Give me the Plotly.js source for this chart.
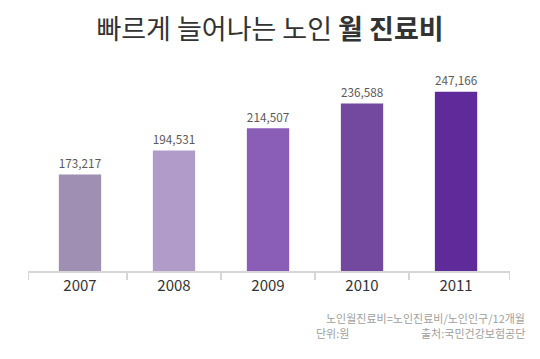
<!DOCTYPE html>
<html>
<head>
<meta charset="utf-8">
<script src="https://cdn.plot.ly/plotly-3.0.1.min.js"></script>
<style>html,body{margin:0;padding:0;background:#fff;}#chart{width:540px;height:359px;}</style>
</head>
<body>
<div id="chart"></div>
<script>
const years = ['2007', '2008', '2009', '2010', '2011'];
const monthlyCost = [173217, 194531, 214507, 236588, 247166];
const barColors = ['#9f8fb3', '#b09bc9', '#8a5db6', '#7349a0', '#5f2b9b'];
const boundaryTicks = [-0.55, 0.5, 1.5, 2.5, 3.5, 4.57];

const FONT = '"Noto Sans CJK KR", "Noto Sans", sans-serif';

const data = [
  {
    type: 'bar',
    x: years,
    y: monthlyCost,
    width: 0.45,
    marker: {color: barColors},
    text: monthlyCost.map(v => v.toLocaleString('en-US')),
    textposition: 'outside',
    textfont: {family: FONT, size: 13, color: '#5a5a5a'},
    cliponaxis: false,
    hoverinfo: 'x+y'
  },
  {
    type: 'scatter',
    x: [0],
    y: [0],
    xaxis: 'x2',
    mode: 'markers',
    marker: {opacity: 0},
    hoverinfo: 'skip',
    showlegend: false
  }
];

const layout = {
  width: 540,
  height: 359,
  margin: {l: 28, r: 30, t: 60, b: 88},
  paper_bgcolor: '#ffffff',
  plot_bgcolor: '#ffffff',
  showlegend: false,
  title: {
    text: '빠르게 늘어나는 노인 <b>월 진료비</b>',
    font: {family: FONT, size: 27, color: '#333333'},
    x: 0.5,
    xanchor: 'center',
    y: 1 - 30 / 359,
    yanchor: 'middle'
  },
  xaxis: {
    type: 'category',
    range: [-0.553, 4.574],
    showline: true,
    linecolor: '#d6d6d6',
    linewidth: 1.5,
    ticks: '',
    showgrid: false,
    zeroline: false,
    tickfont: {family: FONT, size: 15, color: '#333333'},
    fixedrange: true
  },
  xaxis2: {
    overlaying: 'x',
    anchor: 'y',
    side: 'bottom',
    type: 'linear',
    range: [-0.553, 4.574],
    tickmode: 'array',
    tickvals: boundaryTicks,
    showticklabels: false,
    ticks: 'outside',
    ticklen: 8,
    tickwidth: 1.5,
    tickcolor: '#d6d6d6',
    showgrid: false,
    zeroline: false,
    showline: false,
    fixedrange: true
  },
  yaxis: {
    range: [86800, 275600],
    visible: false,
    showgrid: false,
    zeroline: false,
    fixedrange: true
  },
  annotations: [
    {
      text: '노인월진료비=노인진료비/노인인구/12개월',
      xref: 'paper', yref: 'paper',
      x: (527 - 28) / 482, y: (271 - 318) / 211,
      xanchor: 'right', yanchor: 'middle',
      showarrow: false,
      font: {family: FONT, size: 11, color: '#a0a0a0'}
    },
    {
      text: '단위:원',
      xref: 'paper', yref: 'paper',
      x: (314 - 28) / 482, y: (271 - 333) / 211,
      xanchor: 'left', yanchor: 'middle',
      showarrow: false,
      font: {family: FONT, size: 11, color: '#a0a0a0'}
    },
    {
      text: '출처:국민건강보험공단',
      xref: 'paper', yref: 'paper',
      x: (527 - 28) / 482, y: (271 - 333) / 211,
      xanchor: 'right', yanchor: 'middle',
      showarrow: false,
      font: {family: FONT, size: 11, color: '#a0a0a0'}
    }
  ]
};

Plotly.newPlot('chart', data, layout, {displayModeBar: false, staticPlot: true});
</script>
</body>
</html>
